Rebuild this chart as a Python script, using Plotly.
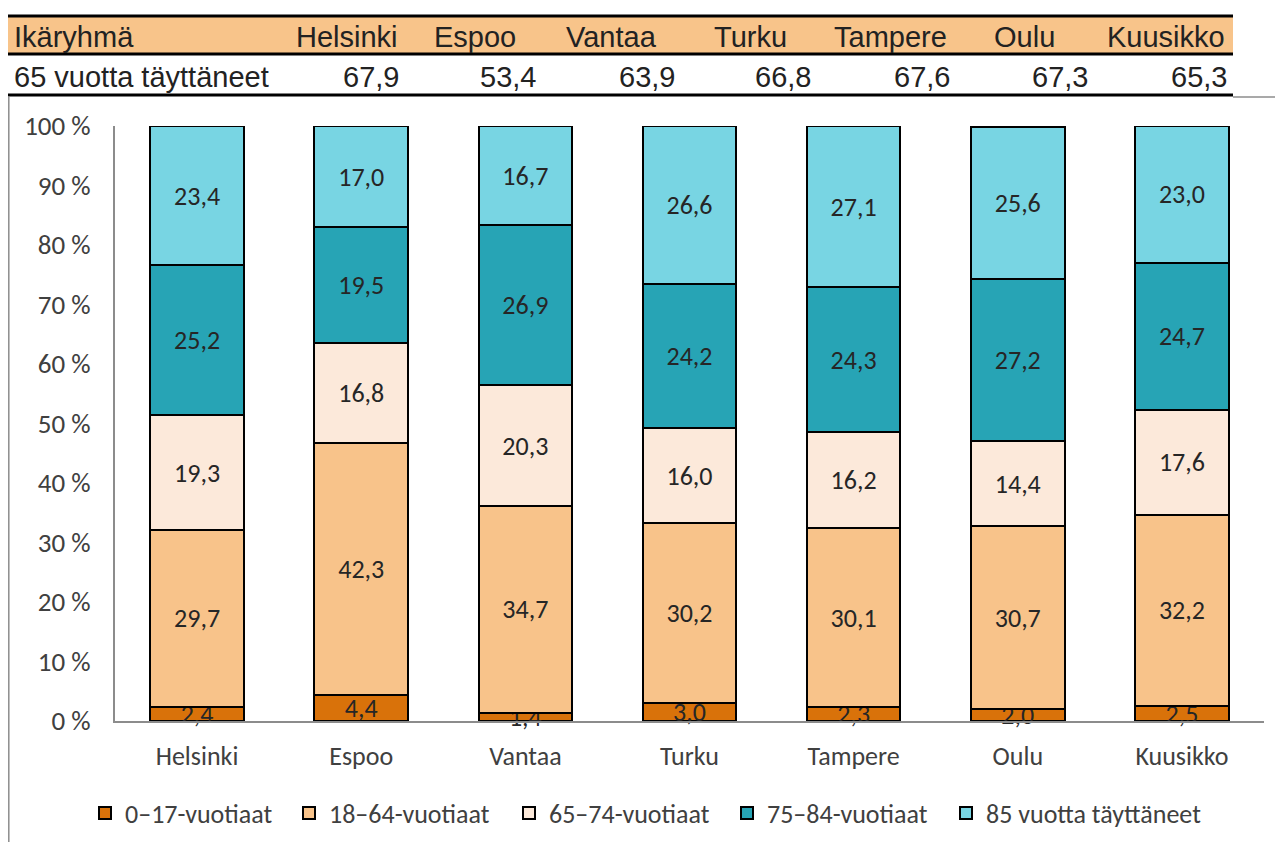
import plotly.graph_objects as go

cities = ['Helsinki', 'Espoo', 'Vantaa', 'Turku', 'Tampere', 'Oulu', 'Kuusikko']
groups = ['0–17-vuotiaat', '18–64-vuotiaat', '65–74-vuotiaat', '75–84-vuotiaat', '85 vuotta täyttäneet']

age_0_17 = [2.4, 4.4, 1.4, 3.0, 2.3, 2.0, 2.5]
age_18_64 = [29.7, 42.3, 34.7, 30.2, 30.1, 30.7, 32.2]
age_65_74 = [19.3, 16.8, 20.3, 16.0, 16.2, 14.4, 17.6]
age_75_84 = [25.2, 19.5, 26.9, 24.2, 24.3, 27.2, 24.7]
age_85 = [23.4, 17.0, 16.7, 26.6, 27.1, 25.6, 23.0]

table_label = 'Ikäryhmä'
row_label = '65 vuotta täyttäneet'
share_65 = ['67,9', '53,4', '63,9', '66,8', '67,6', '67,3', '65,3']

colors = ['#D9720A', '#F8C38A', '#FCE9DA', '#27A4B5', '#78D5E3']

# page body has an 8px margin, so the figure is 8px smaller than the window
W, H = 1275, 834
L, R, T, B = 115, 1264, 126, 721   # plot area in window pixels


def px(x):
    return (x - L) / (R - L)


def py(y):
    return (B - y) / (B - T)


# one legend per entry so the items can sit where they are in the original
legend_ids = ['legend', 'legend2', 'legend3', 'legend4', 'legend5']
legend_text_x = [124, 328, 548, 766, 985]

fig = go.Figure()
for name, vals, col, lg in zip(groups, [age_0_17, age_18_64, age_65_74, age_75_84, age_85],
                               colors, legend_ids):
    fig.add_trace(go.Bar(
        x=cities, y=vals, name=name, legend=lg,
        marker=dict(color=col, line=dict(color='black', width=2)),
        texttemplate='%{y:.1f}', textposition='inside', insidetextanchor='middle',
        textangle=0, textfont=dict(size=26, color='#262626'), cliponaxis=False,
    ))

# table above the chart
shapes = [
    dict(type='rect', xref='paper', yref='paper', x0=px(8), x1=px(1233), y0=py(17), y1=py(53),
         fillcolor='#F8C48A', line=dict(width=0), layer='below'),
    dict(type='line', xref='paper', yref='paper', x0=px(8), x1=px(1233), y0=py(16), y1=py(16),
         line=dict(color='black', width=3)),
    dict(type='line', xref='paper', yref='paper', x0=px(8), x1=px(1233), y0=py(54), y1=py(54),
         line=dict(color='black', width=3)),
    dict(type='line', xref='paper', yref='paper', x0=px(8), x1=px(1233), y0=py(95), y1=py(95),
         line=dict(color='black', width=3)),
    dict(type='line', xref='paper', yref='paper', x0=px(1233), x1=px(1283), y0=py(97), y1=py(97),
         line=dict(color='#8c8c8c', width=1.5)),
    dict(type='line', xref='paper', yref='paper', x0=px(8.8), x1=px(8.8), y0=py(97), y1=py(842),
         line=dict(color='#8c8c8c', width=1.5)),
]

tfont = dict(family='Liberation Sans Narrow, Liberation Sans, Arial', size=29, color='#222222')
ann = [
    dict(text=table_label, x=px(12), y=py(37), xanchor='left', yanchor='middle'),
    dict(text=row_label, x=px(12), y=py(77), xanchor='left', yanchor='middle'),
]
head_right = [400, 518, 659, 789, 949, 1057, 1227]
val_right = [401, 538, 677, 813, 952, 1090, 1229]
for c, xr in zip(cities, head_right):
    ann.append(dict(text=c, x=px(xr), y=py(37), xanchor='right', yanchor='middle'))
for v, xr in zip(share_65, val_right):
    ann.append(dict(text=v, x=px(xr), y=py(77), xanchor='right', yanchor='middle'))
for a in ann:
    a.update(xref='paper', yref='paper', showarrow=False, font=tfont)

fig.update_layout(
    width=W, height=H,
    margin=dict(l=L - 8, r=W - (R - 8), t=T - 8, b=H - (B - 8)),
    barmode='stack', bargap=0.43,
    separators=', ',
    paper_bgcolor='white', plot_bgcolor='white',
    font=dict(family='Carlito, Lato, Open Sans, sans-serif', size=26, color='#404040'),
    uniformtext=dict(minsize=26, mode='show'),
    xaxis=dict(showline=True, linecolor='#8c8c8c', linewidth=2, ticks='', showgrid=False,
               automargin=False, ticklabelstandoff=11, tickfont=dict(size=26, color='#404040')),
    # tiny headroom so float sums of 100.0 are not treated as out of range
    yaxis=dict(range=[0, 100.001], tick0=0, dtick=10, ticksuffix=' %', showline=True,
               linecolor='#8c8c8c', linewidth=2, showgrid=False, zeroline=False, ticks='',
               ticklabelstandoff=17, automargin=False, tickfont=dict(size=27, color='#404040')),
    shapes=shapes, annotations=ann,
    showlegend=True,
)

leg_y = 1 - (813 - 8) / H
for lg, tx in zip(legend_ids, legend_text_x):
    fig.update_layout({lg: dict(
        orientation='h', x=px(tx - 39), xanchor='left', yref='container', y=leg_y,
        yanchor='middle', font=dict(size=26, color='#404040'), itemwidth=30,
        bgcolor='rgba(0,0,0,0)', borderwidth=0,
    )})

fig.write_html('out.html')
